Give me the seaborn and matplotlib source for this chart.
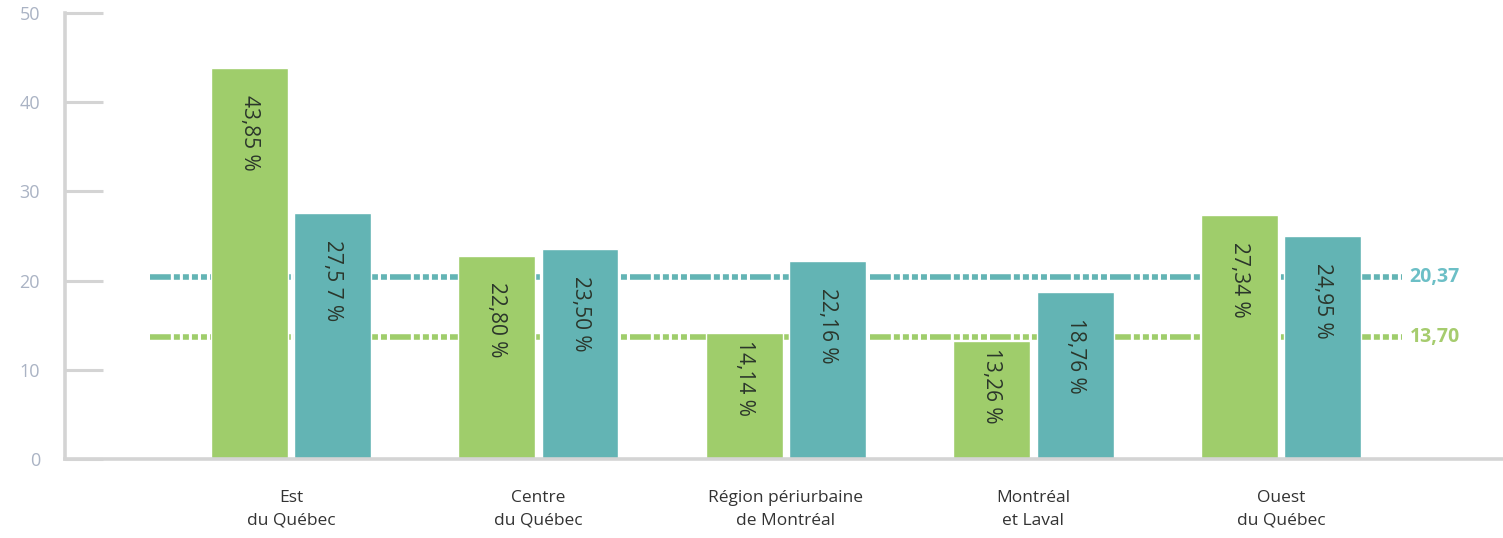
import pandas as pd
import seaborn as sns
import matplotlib.pyplot as plt

# Data
regions = ["Est\ndu Québec", "Centre\ndu Québec", "Région périurbaine\nde Montréal",
           "Montréal\net Laval", "Ouest\ndu Québec"]
serie_a = [43.85, 22.80, 14.14, 13.26, 27.34]   # vert
serie_b = [27.57, 23.50, 22.16, 18.76, 24.95]   # turquoise
labels_a = ["43,85 %", "22,80 %", "14,14 %", "13,26 %", "27,34 %"]
labels_b = ["27,5 7 %", "23,50 %", "22,16 %", "18,76 %", "24,95 %"]
moy_a = 13.70
moy_b = 20.37
moy_a_txt = "13,70"
moy_b_txt = "20,37"

green = "#9fcd6b"
teal = "#63b4b4"
grey = "#d4d4d4"

df = pd.DataFrame({
    "region": regions * 2,
    "serie": ["a"] * 5 + ["b"] * 5,
    "valeur": serie_a + serie_b,
})

sns.set_style("white")
plt.rcParams["font.family"] = ["Open Sans", "DejaVu Sans"]
plt.rcParams["lines.scale_dashes"] = False

fig = plt.figure(figsize=(15.03, 5.38), dpi=100)
ax = fig.add_axes([0.0432, 0.1468, 0.9568, 0.829])

# average lines behind the bars: long dash then four dots
dash = (15, 2.2, 4.3, 2.2, 4.3, 2.2, 4.3, 2.2, 4.3, 2.2)
ax.plot([-0.57, 4.49], [moy_b, moy_b], color=teal, lw=4, dashes=dash,
        solid_capstyle="butt", zorder=1)
ax.plot([-0.57, 4.49], [moy_a, moy_a], color=green, lw=4, dashes=dash,
        solid_capstyle="butt", zorder=1)

sns.barplot(data=df, x="region", y="valeur", hue="serie", order=regions,
            palette=[green, teal], width=0.672, gap=0.075, saturation=1,
            legend=False, ax=ax, zorder=2)

# value labels inside the bars, rotated to read downward
for cont, labs in zip(ax.containers, [labels_a, labels_b]):
    for bar, lab in zip(cont, labs):
        v = bar.get_height()
        y = v - 3 if v - 17 > 1 else v - 0.8
        ax.text(bar.get_x() + bar.get_width() / 2, y, lab, rotation=270,
                ha="center", va="top", fontsize=15, color="#2b362b", zorder=3)

ax.text(4.52, moy_b, moy_b_txt, color="#6cbfc6", fontsize=14, fontweight="bold",
        va="center", ha="left")
ax.text(4.52, moy_a, moy_a_txt, color="#a6cc6e", fontsize=14, fontweight="bold",
        va="center", ha="left")

ax.set_xlim(-0.913, 4.897)
ax.set_ylim(0, 50)
ax.set_yticks([0, 10, 20, 30, 40, 50])
ax.set_xlabel("")
ax.set_ylabel("")

sns.despine(ax=ax, top=True, right=True)
for s in ["left", "bottom"]:
    ax.spines[s].set_color(grey)
    ax.spines[s].set_linewidth(2.6)

ax.tick_params(axis="y", left=True, direction="in", length=27, width=2.2,
               color=grey, pad=18, labelsize=13, labelcolor="#aab3c4")
ax.tick_params(axis="x", bottom=False, length=0, pad=22, labelsize=12.5,
               labelcolor="#333333")
for t in ax.get_xticklabels():
    t.set_linespacing(1.6)

fig.savefig("out.png", dpi=100)
